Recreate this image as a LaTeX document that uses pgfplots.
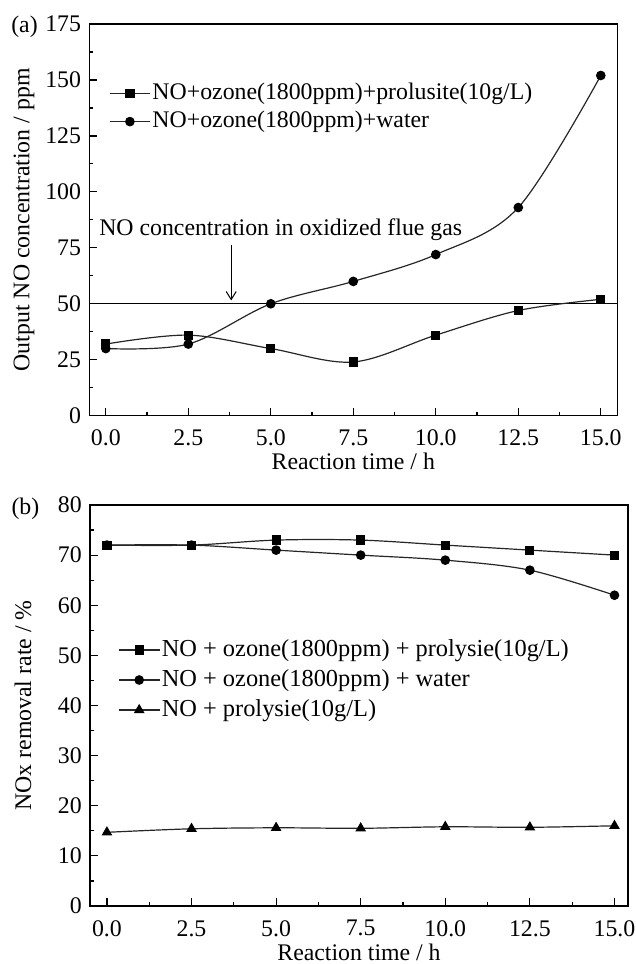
\documentclass[border=0pt]{standalone}
\usepackage{fontspec}
\setmainfont{Liberation Serif}
\usepackage{pgfplots}
\pgfplotsset{compat=1.18}
\usetikzlibrary{arrows.meta}

\pgfplotsset{
  myaxis/.style={
    scale only axis,
    clip=false,
    axis line style={black, line width=0.6pt},
    tick align=inside,
    xtick pos=bottom, ytick pos=left,
    major tick length=3.8pt, minor tick length=1.9pt,
    every tick/.style={black, line width=0.6pt},
    minor x tick num=1, minor y tick num=1,
    /pgf/number format/assume math mode=true,
    xticklabel style={/pgf/number format/fixed, /pgf/number format/fixed zerofill, /pgf/number format/precision=1, yshift=-3pt},
    yticklabel style={/pgf/number format/fixed},
    tick label style={font=\fontsize{11.9}{13.5}\selectfont},
    label style={font=\fontsize{11.9}{13.5}\selectfont},
    xtick={0,2.5,5,7.5,10,12.5,15},
    xlabel={Reaction time / h},
    xlabel style={at={(axis description cs:0.5,0)}, anchor=center, yshift=-23pt},
    legend cell align=left,
    legend image code/.code={\draw[mark repeat=2, mark phase=2] plot coordinates {(0pt,0pt) (10pt,0pt) (20pt,0pt)};},
  },
  ser/.style={draw=black!85, line width=0.6pt, smooth, tension=0.55, mark options={solid, fill=black, draw=black}},
}

\begin{document}%
\fontsize{11.9}{14}\selectfont%
\begin{tikzpicture}
\path[use as bounding box] (0,0) rectangle (318pt,-482pt);

% ---------- (a) ----------
\begin{axis}[myaxis,
  at={(44.65pt,-12pt)}, anchor=north west,
  width=264pt, height=195.85pt,
  xmin=-0.5, xmax=15.5, ymin=0, ymax=175,
  ytick={0,25,50,75,100,125,150,175},
  ylabel={Output NO concentration / ppm},
  ylabel style={at={(axis description cs:-0.1237,0.5)}, anchor=center},
  legend style={draw=none, fill=none, inner sep=0pt, outer sep=0pt,
    at={(axis description cs:0,1)}, anchor=north west, xshift=10pt, yshift=-28pt,
    font=\fontsize{11.9}{13.5}\selectfont, row sep=1pt,
    nodes={inner sep=1pt, text height=8.6pt, text depth=2.6pt}},
]
\addplot[black, line width=0.6pt, forget plot] coordinates {(-0.5,50) (15.5,50)};
\addplot[ser, mark=square*, mark size=2pt] coordinates {
(0,32) (2.5,36) (5,30) (7.5,24) (10,36) (12.5,47) (15,52)};
\addlegendentry{NO+ozone(1800ppm)+prolusite(10g/L)}
\addplot[ser, mark=*, mark size=2.1pt] coordinates {
(0,30) (2.5,32) (5,50) (7.5,60) (10,72) (12.5,93) (15,152)};
\addlegendentry{NO+ozone(1800ppm)+water}
\node[anchor=west, inner sep=0pt, font=\fontsize{11.9}{13.5}\selectfont] at (axis cs:-0.21,83) {NO concentration in oxidized flue gas};
\draw[-{Straight Barb[length=4pt,width=5pt]}, line width=0.5pt] (axis cs:3.8,76.3) -- (axis cs:3.8,51.5);
\node[font=\fontsize{11.9}{13.5}\selectfont] at (axis description cs:-0.1227,0.993) {(a)};
\end{axis}

% ---------- (b) ----------
\begin{axis}[myaxis,
  at={(45pt,-252.5pt)}, anchor=north west,
  width=269pt, height=200.5pt,
  xmin=-0.5, xmax=15.4, ymin=0, ymax=80,
  ytick={0,10,20,30,40,50,60,70,80},
  ylabel={NOx removal rate / \%},
  ylabel style={at={(axis description cs:-0.1245,0.5)}, anchor=center},
  legend style={draw=none, fill=none, inner sep=0pt, outer sep=0pt,
    at={(axis description cs:0,1)}, anchor=north west, xshift=14.3pt, yshift=-65.5pt,
    font=\fontsize{12.2}{14}\selectfont, row sep=1pt,
    nodes={inner sep=1pt, text height=9pt, text depth=3pt}},
]
\addplot[ser, mark=square*, mark size=2pt] coordinates {
(0,72) (2.5,72) (5,73) (7.5,73) (10,72) (12.5,71) (15,70)};
\addlegendentry{NO + ozone(1800ppm) + prolysie(10g/L)}
\addplot[ser, mark=*, mark size=2.1pt] coordinates {
(0,72) (2.5,72) (5,71) (7.5,70) (10,69) (12.5,67) (15,62)};
\addlegendentry{NO + ozone(1800ppm) + water}
\addplot[ser, mark=triangle*, mark size=2.5pt] coordinates {
(0,14.7) (2.5,15.4) (5,15.6) (7.5,15.5) (10,15.8) (12.5,15.7) (15,16.0)};
\addlegendentry{NO + prolysie(10g/L)}
\node[font=\fontsize{11.9}{13.5}\selectfont] at (axis description cs:-0.12,0.99) {(b)};
\end{axis}
\end{tikzpicture}%
\end{document}
